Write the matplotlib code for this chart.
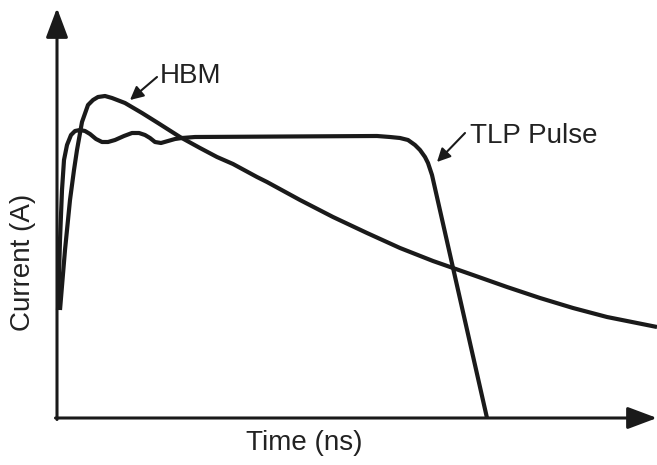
import matplotlib
matplotlib.use("Agg")
import matplotlib.pyplot as plt

# values (arbitrary units, origin at the axes corner)
hbm_t = [3, 8, 13, 17, 20, 25, 31, 36, 41, 48, 55, 68, 85, 101, 123, 143, 160, 176,
         200, 210, 243, 276, 310, 343, 376, 396, 416, 450, 483, 516, 550, 600]
hbm_i = [108, 168, 218, 248, 268, 296, 313, 318, 321, 322, 320, 315, 305, 295, 281, 270,
         261, 254, 241, 236, 218, 201, 185, 170, 157, 150, 143, 131, 120, 110, 101, 91]

tlp_t = [1, 3, 5, 7, 10, 14, 18, 23, 28, 33, 39, 45, 51, 58, 67, 75, 82, 88, 93, 98,
         104, 111, 118, 125, 138, 320, 333, 343, 351, 358, 363, 368, 371, 375, 430]
tlp_i = [108, 178, 228, 258, 273, 283, 287, 288, 287, 284, 279, 276, 276, 278, 282, 285,
         285, 283, 280, 276, 275, 277, 279, 280, 281, 282, 281, 280, 278, 273, 268, 261,
         255, 243, 0]

ink = '#1a1a1a'
txt = '#222222'
plt.rcParams['font.family'] = ['Liberation Sans', 'DejaVu Sans']

fig = plt.figure(figsize=(6.57, 4.65), dpi=100)
ax = fig.add_axes([0, 0, 1, 1])
ax.set_xlim(-57, 600)
ax.set_ylim(-47, 418)
ax.axis('off')

ax.plot(hbm_t, hbm_i, color=ink, lw=3, solid_joinstyle='round', solid_capstyle='butt')
ax.plot(tlp_t, tlp_i, color=ink, lw=3, solid_joinstyle='round', solid_capstyle='butt')

# axes with arrow heads
axis_arrow = dict(arrowstyle='-|>,head_length=0.4,head_width=0.15', color=ink,
                  lw=2.2, mutation_scale=45, shrinkA=0, shrinkB=0)
ax.annotate('', xy=(0, 410), xytext=(0, -1.5), arrowprops=axis_arrow)
ax.annotate('', xy=(600, 0), xytext=(-1.5, 0), arrowprops=axis_arrow)

ax.text(247, -25, 'Time (ns)', fontsize=20, color=txt, ha='center', va='center')
ax.text(-34, 156, 'Current (A)', fontsize=20, color=txt, ha='center', va='center',
        rotation=90)

# curve labels with pointer arrows
label_arrow = dict(arrowstyle='-|>,head_length=0.5,head_width=0.25', color=ink,
                   lw=1.5, mutation_scale=16, shrinkA=0, shrinkB=0)
ax.text(103, 335, 'HBM', fontsize=20, color=txt, ha='left', va='baseline')
ax.annotate('', xy=(73, 318), xytext=(100, 341), arrowprops=label_arrow)
ax.text(413, 275, 'TLP Pulse', fontsize=20, color=txt, ha='left', va='baseline')
ax.annotate('', xy=(380, 256), xytext=(408, 285), arrowprops=label_arrow)

fig.savefig('out.png', dpi=100)
